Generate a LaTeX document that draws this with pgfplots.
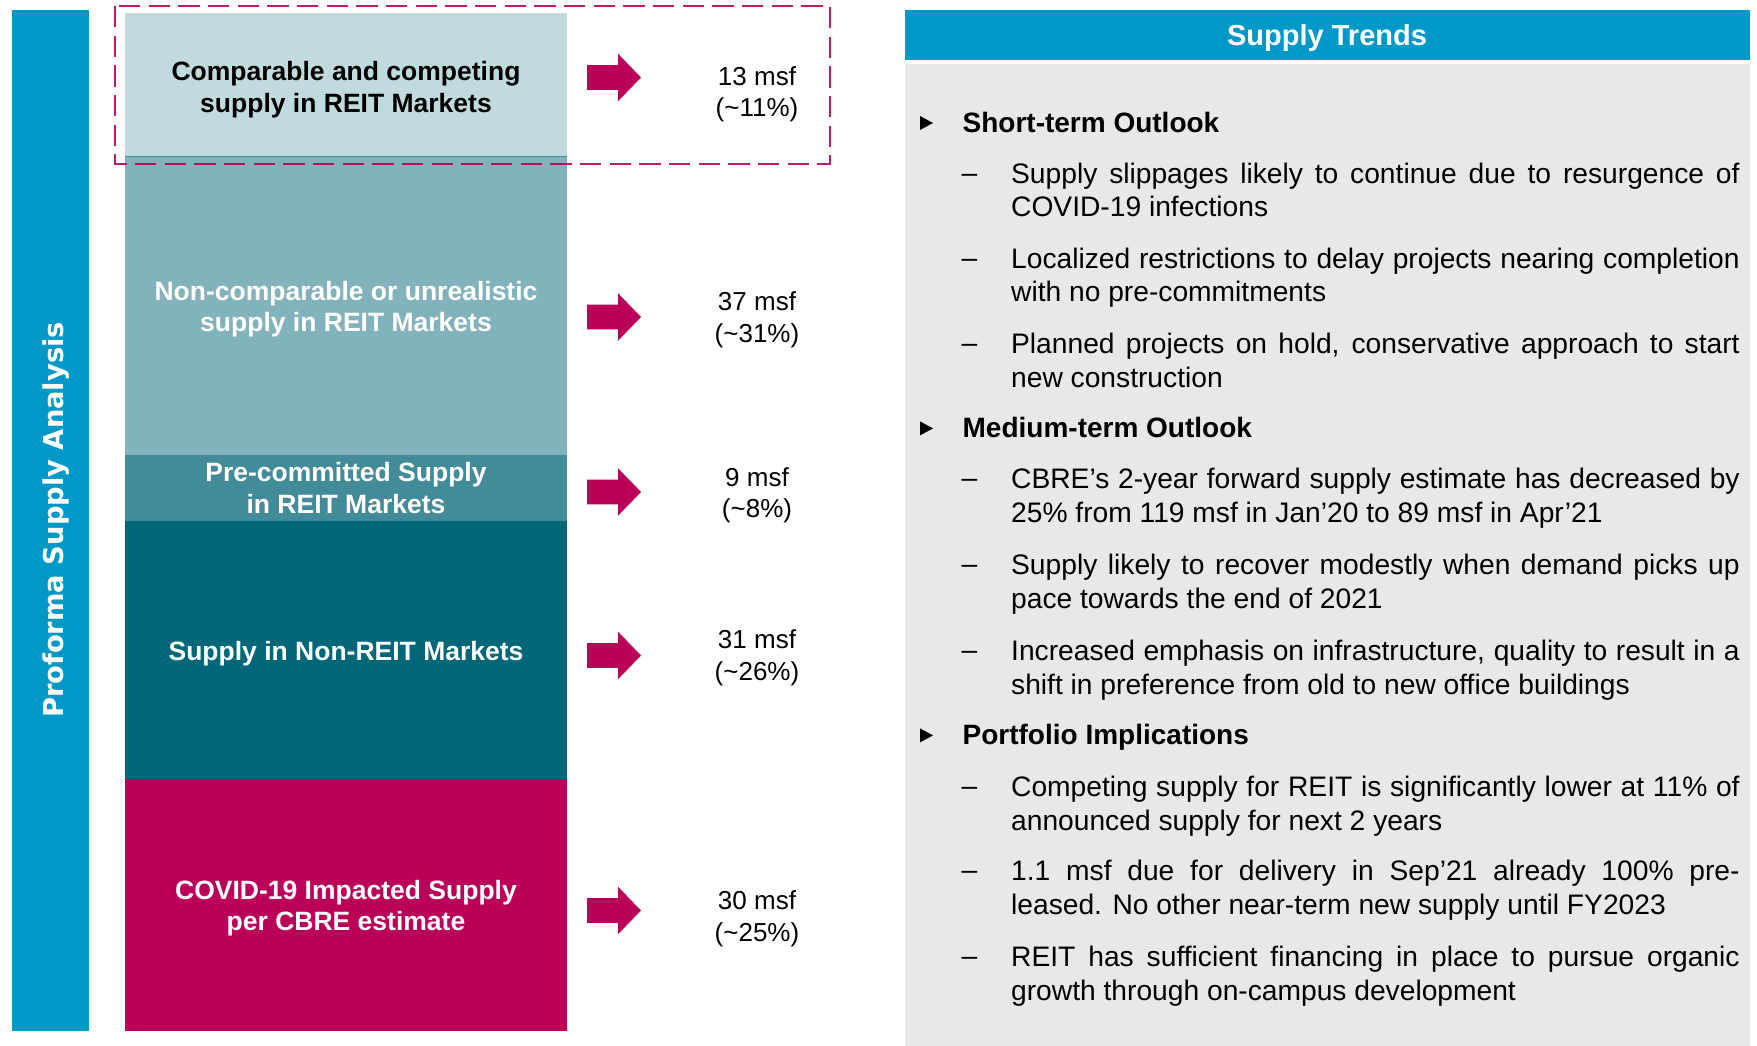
\documentclass[border=0pt]{standalone}
\usepackage{pgfplots}
\pgfplotsset{compat=1.18}
\usepackage{fontspec}
\setmainfont{Liberation Sans}
\newfontfamily\dejavu{DejaVu Sans}
\definecolor{cblue}{RGB}{0,152,198}
\definecolor{cmag}{RGB}{187,0,90}
\definecolor{cgrey}{RGB}{232,232,232}
\definecolor{sLight}{RGB}{193,218,221}
\definecolor{sMid}{RGB}{130,178,188}
\definecolor{sTeal}{RGB}{67,139,152}
\definecolor{sDark}{RGB}{0,103,120}
\newcommand\bodyfont{\fontsize{8.46}{10.1}\selectfont}
\newcommand\headfont{\fontsize{8.4}{10.1}\selectfont\bfseries}
\newcommand\seg{\fontsize{7.95}{9.45}\selectfont\bfseries}
\newcommand\val{\fontsize{7.8}{9.5}\selectfont}
\begin{document}
\begin{tikzpicture}[x=0.3pt,y=0.3pt]
\useasboundingbox (0,0) rectangle (1757,1046);
% left vertical banner
\fill[cblue] (12,1036) rectangle (89,15);
\node[rotate=90, anchor=base, inner sep=0, text=white, font=\dejavu\bfseries\fontsize{8.2}{9.8}\selectfont] at (63.4,526) {Proforma Supply Analysis};
% stacked bar
\begin{axis}[at={(37.5pt,4.5pt)}, anchor=south west, scale only axis,
  width=132.6pt, height=305.4pt, xmin=-0.5, xmax=0.5, ymin=0, ymax=1018,
  axis lines=none, ybar stacked, bar width=132.6pt, clip=false]
\addplot[fill=cmag, draw=none] coordinates {(0,252)};
\addplot[fill=sDark, draw=none] coordinates {(0,258)};
\addplot[fill=sTeal, draw=none] coordinates {(0,66)};
\addplot[fill=sMid, draw=none] coordinates {(0,298)};
\addplot[fill=sLight, draw=none] coordinates {(0,144)};
\end{axis}
\draw[sTeal, line width=0.3pt] (125,889) -- (567,889);
% dashed highlight
\draw[cmag, opacity=0.9, line width=0.8pt, dash pattern=on 6.4pt off 2.5pt] (115,1040) rectangle (830,882);
% segment labels
\node[anchor=north, align=center, inner sep=0, font=\seg, text=black] at (346,988) {\strut Comparable and competing\\supply in REIT Markets};
\node[anchor=north, align=center, inner sep=0, font=\seg, text=white] at (346,768.4) {\strut Non-comparable or unrealistic\\supply in REIT Markets};
\node[anchor=north, align=center, inner sep=0, font=\seg, text=white] at (346,587) {\strut Pre-committed Supply\\in REIT Markets};
\node[anchor=north, align=center, inner sep=0, font=\seg, text=white] at (346,408.5) {\strut Supply in Non-REIT Markets};
\node[anchor=north, align=center, inner sep=0, font=\seg, text=white] at (346,169.3) {\strut COVID-19 Impacted Supply\\per CBRE estimate};
% arrows
\foreach \Y in {968.5,729,554,390.5,135.5}{
  \fill[cmag] (587,\Y+12.4) -- (618,\Y+12.4) -- (618,\Y+23.8) -- (641,\Y) -- (618,\Y-23.8) -- (618,\Y-12.4) -- (587,\Y-12.4) -- cycle;
}
% values
\node[anchor=north, align=center, inner sep=0, font=\val] at (757,983.8) {\strut 13 msf\\(\textasciitilde 11\%)};
\node[anchor=north, align=center, inner sep=0, font=\val] at (757,758.2) {\strut 37 msf\\(\textasciitilde 31\%)};
\node[anchor=north, align=center, inner sep=0, font=\val] at (757,582.7) {\strut 9 msf\\(\textasciitilde 8\%)};
\node[anchor=north, align=center, inner sep=0, font=\val] at (757,420.2) {\strut 31 msf\\(\textasciitilde 26\%)};
\node[anchor=north, align=center, inner sep=0, font=\val] at (757,159.2) {\strut 30 msf\\(\textasciitilde 25\%)};
% right panel
\fill[cgrey] (905,0) rectangle (1750,982);
\fill[cblue] (905,1036) rectangle (1750,986);
\node[anchor=base, inner sep=0, text=white, font=\fontsize{8.7}{10}\selectfont\bfseries] at (1327,1000.2) {Supply Trends};
% headings
\foreach \b/\t in {913.4/Short-term Outlook, 608/Medium-term Outlook, 301/Portfolio Implications}{
  \fill[black] (920,\b+16.6) -- (933,\b+9.6) -- (920,\b+2.6) -- cycle;
  \node[anchor=base west, inner sep=0, font=\headfont] at (962,\b) {\t};
}
% dashes
\foreach \b in {863.5,778.4,693,558,472,386,250,166,80}{
  \node[anchor=base, inner sep=0, font=\bodyfont] at (969.5,\b) {–};
}
% items
\tikzset{item/.style={anchor=north west, inner sep=0, text width=218.55pt, align=justify, font=\bodyfont}}
\node[item] at (1010.5,887.07) {\noindent\strut Supply slippages likely to continue due to resurgence of\linebreak COVID-19 infections};
\node[item] at (1010.5,801.97) {\noindent\strut Localized restrictions to delay projects nearing completion\linebreak with no pre-commitments};
\node[item] at (1010.5,716.57) {\noindent\strut Planned projects on hold, conservative approach to start\linebreak new construction};
\node[item] at (1010.5,581.57) {\noindent\strut CBRE’s 2-year forward supply estimate has decreased by\linebreak 25\% from 119 msf in Jan’20 to 89 msf in Apr’21};
\node[item] at (1010.5,495.57) {\noindent\strut Supply likely to recover modestly when demand picks up\linebreak pace towards the end of 2021};
\node[item] at (1010.5,409.57) {\noindent\strut Increased emphasis on infrastructure, quality to result in a\linebreak shift in preference from old to new office buildings};
\node[item] at (1010.5,273.57) {\noindent\strut Competing supply for REIT is significantly lower at 11\% of\linebreak announced supply for next 2 years};
\node[item] at (1010.5,189.57) {\noindent\strut 1.1 msf due for delivery in Sep’21 already 100\% pre-\linebreak leased. No other near-term new supply until FY2023};
\node[item] at (1010.5,103.57) {\noindent\strut REIT has sufficient financing in place to pursue organic\linebreak growth through on-campus development};
\end{tikzpicture}
\end{document}
